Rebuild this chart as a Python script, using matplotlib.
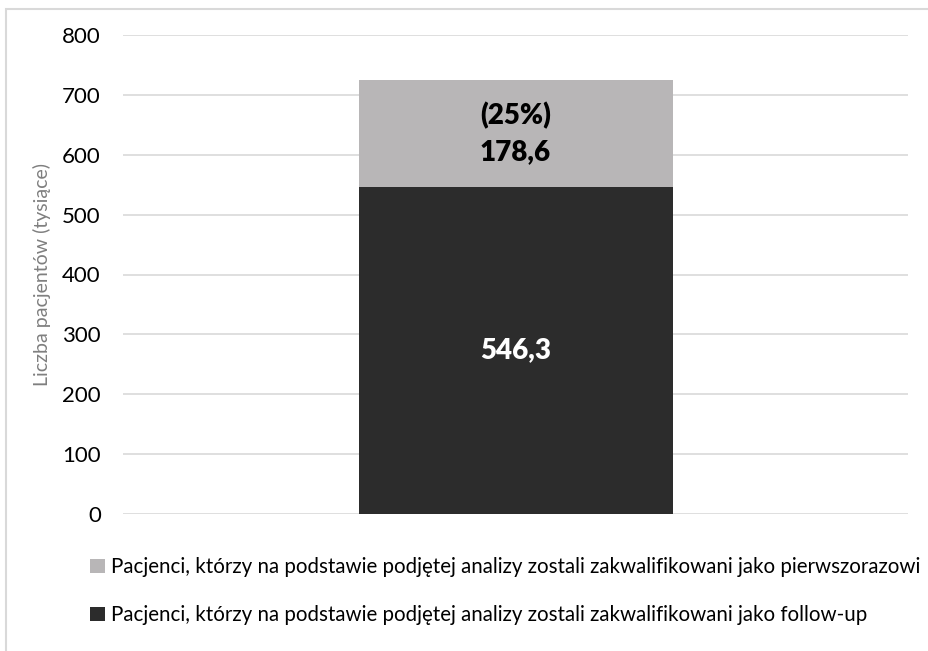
import matplotlib
matplotlib.use("Agg")
import matplotlib.pyplot as plt
from matplotlib.patches import Rectangle

plt.rcParams['font.family'] = ['Lato', 'DejaVu Sans']

# Data (thousands of patients)
categories = [""]
follow_up = [546.3]
first_time = [178.6]
share_first_time = ["(25%)"]
labels = [
    "Pacjenci, którzy na podstawie podjętej analizy zostali zakwalifikowani jako pierwszorazowi",
    "Pacjenci, którzy na podstawie podjętej analizy zostali zakwalifikowani jako follow-up",
]
y_ticks = [0, 100, 200, 300, 400, 500, 600, 700, 800]
y_label = "Liczba pacjentów (tysiące)"

dark = "#2c2c2c"
light = "#b8b6b7"
grid = "#d9d9d9"

fig = plt.figure(figsize=(9.29, 6.51), dpi=100)
ax = fig.add_axes([123 / 929, 1 - 514 / 651, 785 / 929, 479 / 651])

x = [0]
b1 = ax.bar(x, follow_up, width=0.8, color=dark, zorder=2)
b2 = ax.bar(x, first_time, bottom=follow_up, width=0.8, color=light, zorder=2)

ax.set_xlim(-1, 1)
ax.set_ylim(0, 800)
ax.set_yticks(y_ticks)
ax.set_yticklabels([str(t) for t in y_ticks], fontsize=16, color="#000000")
ax.set_xticks([])
ax.tick_params(axis="y", length=0, pad=16)
for s in ax.spines.values():
    s.set_visible(False)
ax.yaxis.grid(True, color=grid, linewidth=1.2, zorder=0)
ax.set_axisbelow(True)
ax.set_ylabel(y_label, fontsize=14, color="#7f7f7f", labelpad=8)

# value labels
fmt = lambda v: f"{v:.1f}".replace(".", ",")
ax.text(x[0], follow_up[0] / 2, fmt(follow_up[0]), ha="center", va="center",
        fontsize=20, fontweight=800, color="white")
mid = follow_up[0] + first_time[0] / 2
ax.text(x[0], mid, share_first_time[0] + "\n" + fmt(first_time[0]), ha="center",
        va="center", fontsize=20, fontweight=800, color="black", linespacing=1.45)

fig.legend([b2, b1], labels, loc="upper left", bbox_to_anchor=(82 / 929, 1 - 549 / 651),
           frameon=False, fontsize=14.8, handlelength=0.7, handleheight=0.7,
           handletextpad=0.3, labelspacing=1.35, borderaxespad=0)

# outer chart frame
fig.patches.append(Rectangle((6.5 / 929, -0.1), 1.2, 1.1 - 9.5 / 651,
                             transform=fig.transFigure, fill=False,
                             edgecolor=grid, linewidth=1.5))

fig.savefig("out.png", dpi=100)
